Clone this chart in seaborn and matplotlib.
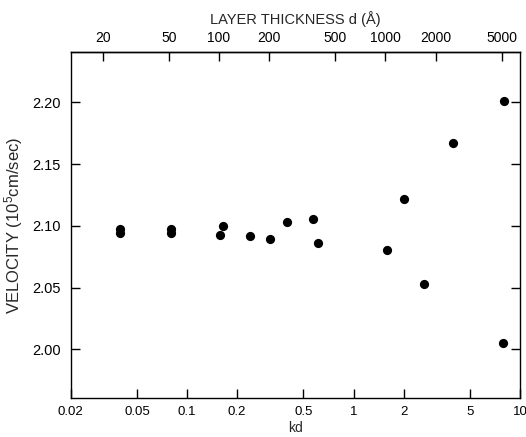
import matplotlib
matplotlib.use("Agg")
import matplotlib.pyplot as plt
import seaborn as sns
import pandas as pd
from matplotlib.ticker import FixedLocator, FixedFormatter, NullLocator

# Data
kd = [0.0395, 0.0395, 0.080, 0.080, 0.165, 0.158, 0.239, 0.315, 0.398,
      0.570, 0.614, 1.59, 2.00, 2.66, 3.97, 7.87, 7.97]
velocity = [2.0977, 2.0944, 2.0977, 2.0939, 2.0996, 2.0923, 2.0917, 2.0896,
            2.1033, 2.1053, 2.0861, 2.0804, 2.1219, 2.0529, 2.1673, 2.0053, 2.2013]

kd_ticks = [0.02, 0.05, 0.1, 0.2, 0.5, 1, 2, 5, 10]
kd_labels = ["0.02", "0.05", "0.1", "0.2", "0.5", "1", "2", "5", "10"]
d_ticks = [20, 50, 100, 200, 500, 1000, 2000, 5000]
d_labels = ["20", "50", "100", "200", "500", "1000", "2000", "5000"]
v_ticks = [2.00, 2.05, 2.10, 2.15, 2.20]
v_labels = ["2.00", "2.05", "2.10", "2.15", "2.20"]
k_per_angstrom = 0.001555

sns.set_theme(style="ticks", rc={
    "xtick.direction": "in", "ytick.direction": "in",
    "xtick.major.size": 6.5, "ytick.major.size": 6.5,
    "xtick.major.width": 1.0, "ytick.major.width": 1.0,
    "xtick.color": "black", "ytick.color": "black",
    "axes.edgecolor": "black", "axes.linewidth": 1.0,
    "xtick.bottom": True, "ytick.left": True, "ytick.right": True,
})
plt.rcParams["font.family"] = ["Liberation Sans", "DejaVu Sans"]
plt.rcParams["mathtext.default"] = "regular"

df = pd.DataFrame({"kd": kd, "velocity": velocity})

fig = plt.figure(figsize=(5.26, 4.37), dpi=100)
ax = fig.add_axes([0.1344, 0.0899, 0.9886 - 0.1344, 0.8803 - 0.0899])

sns.scatterplot(data=df, x="kd", y="velocity", ax=ax, color="black",
                s=44, edgecolor="black", linewidth=0, legend=False, zorder=3)

ax.set_xscale("log")
ax.set_xlim(0.02, 10)
ax.set_ylim(1.9608, 2.2405)

ax.xaxis.set_major_locator(FixedLocator(kd_ticks))
ax.xaxis.set_major_formatter(FixedFormatter(kd_labels))
ax.xaxis.set_minor_locator(NullLocator())
ax.yaxis.set_major_locator(FixedLocator(v_ticks))
ax.yaxis.set_major_formatter(FixedFormatter(v_labels))
ax.yaxis.set_minor_locator(NullLocator())

ax.tick_params(axis="x", which="major", direction="in", length=6.5, width=1.0,
               labelsize=9.5, pad=6, color="black", labelcolor="black",
               bottom=True, top=False)
ax.tick_params(axis="y", which="major", direction="in", length=6.5, width=1.0,
               labelsize=10.5, pad=7, color="black", labelcolor="black",
               left=True, right=True)

for sp in ax.spines.values():
    sp.set_visible(True)
    sp.set_color("black")
    sp.set_linewidth(1.0)

ax.set_xlabel("kd", fontsize=10, labelpad=2)
ax.set_ylabel("VELOCITY (10$^5$cm/sec)", fontsize=12, labelpad=5)

sec = ax.secondary_xaxis("top", functions=(lambda x: x / k_per_angstrom,
                                           lambda d: d * k_per_angstrom))
sec.xaxis.set_major_locator(FixedLocator(d_ticks))
sec.xaxis.set_major_formatter(FixedFormatter(d_labels))
sec.xaxis.set_minor_locator(NullLocator())
sec.tick_params(axis="x", which="major", direction="in", length=6.5, width=1.0,
                labelsize=10, pad=5, color="black", labelcolor="black", top=True)
sec.spines["top"].set_linewidth(1.0)
sec.set_xlabel("LAYER THICKNESS d (Å)", fontsize=10.5, labelpad=5)

fig.savefig("out.png", dpi=100)
